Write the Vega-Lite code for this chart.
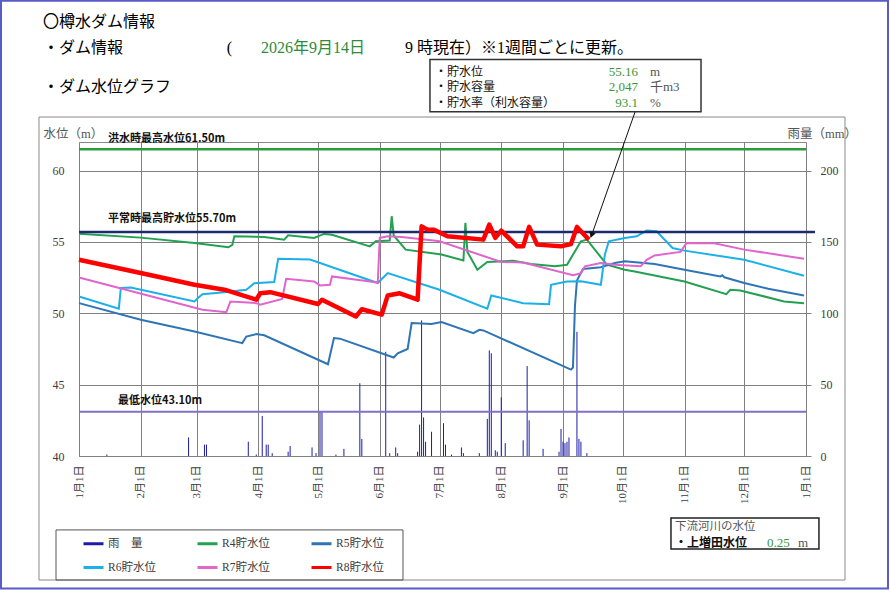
{
  "$schema": "https://vega.github.io/schema/vega-lite/v6.json",
  "width": 727,
  "height": 314,
  "autosize": {"type": "none"},
  "padding": {"left": 79, "top": 142, "right": 84, "bottom": 134},
  "background": "white",
  "config": {
    "view": {"stroke": "#8a8a8a", "strokeWidth": 1},
    "axis": {
      "gridColor": "#808080",
      "gridOpacity": 1,
      "gridWidth": 1,
      "labelColor": "#3c3c3c",
      "labelFont": "Liberation Serif, Noto Sans CJK JP",
      "titleFont": "Liberation Serif, Noto Sans CJK JP",
      "titleFontWeight": "normal",
      "titleColor": "#555555",
      "titleFontSize": 12.5
    }
  },
  "datasets": {
    "rain": [
      {"date": "2026-01-15", "series": "雨　量", "rain": 1},
      {"date": "2026-02-25", "series": "雨　量", "rain": 13},
      {"date": "2026-03-05", "series": "雨　量", "rain": 8},
      {"date": "2026-03-06", "series": "雨　量", "rain": 8},
      {"date": "2026-03-27", "series": "雨　量", "rain": 10},
      {"date": "2026-03-31", "series": "雨　量", "rain": 1},
      {"date": "2026-04-03", "series": "雨　量", "rain": 28},
      {"date": "2026-04-05", "series": "雨　量", "rain": 8},
      {"date": "2026-04-06", "series": "雨　量", "rain": 8},
      {"date": "2026-04-08", "series": "雨　量", "rain": 2},
      {"date": "2026-04-16", "series": "雨　量", "rain": 3},
      {"date": "2026-04-17", "series": "雨　量", "rain": 7},
      {"date": "2026-04-28", "series": "雨　量", "rain": 6},
      {"date": "2026-04-30", "series": "雨　量", "rain": 2},
      {"date": "2026-05-02", "series": "雨　量", "rain": 31},
      {"date": "2026-05-03", "series": "雨　量", "rain": 31},
      {"date": "2026-05-10", "series": "雨　量", "rain": 1},
      {"date": "2026-05-14", "series": "雨　量", "rain": 5},
      {"date": "2026-05-22", "series": "雨　量", "rain": 51},
      {"date": "2026-05-23", "series": "雨　量", "rain": 12},
      {"date": "2026-06-04", "series": "雨　量", "rain": 73},
      {"date": "2026-06-06", "series": "雨　量", "rain": 2},
      {"date": "2026-06-09", "series": "雨　量", "rain": 6},
      {"date": "2026-06-10", "series": "雨　量", "rain": 2},
      {"date": "2026-06-20", "series": "雨　量", "rain": 3},
      {"date": "2026-06-21", "series": "雨　量", "rain": 22},
      {"date": "2026-06-22", "series": "雨　量", "rain": 95},
      {"date": "2026-06-23", "series": "雨　量", "rain": 27},
      {"date": "2026-06-24", "series": "雨　量", "rain": 10},
      {"date": "2026-06-27", "series": "雨　量", "rain": 17},
      {"date": "2026-07-03", "series": "雨　量", "rain": 23},
      {"date": "2026-07-04", "series": "雨　量", "rain": 8},
      {"date": "2026-07-07", "series": "雨　量", "rain": 1},
      {"date": "2026-07-12", "series": "雨　量", "rain": 6},
      {"date": "2026-07-13", "series": "雨　量", "rain": 2},
      {"date": "2026-07-21", "series": "雨　量", "rain": 2},
      {"date": "2026-07-25", "series": "雨　量", "rain": 26},
      {"date": "2026-07-26", "series": "雨　量", "rain": 74},
      {"date": "2026-07-27", "series": "雨　量", "rain": 72},
      {"date": "2026-07-29", "series": "雨　量", "rain": 4},
      {"date": "2026-07-30", "series": "雨　量", "rain": 3},
      {"date": "2026-08-01", "series": "雨　量", "rain": 41},
      {"date": "2026-08-03", "series": "雨　量", "rain": 9},
      {"date": "2026-08-12", "series": "雨　量", "rain": 11},
      {"date": "2026-08-14", "series": "雨　量", "rain": 63},
      {"date": "2026-08-15", "series": "雨　量", "rain": 25},
      {"date": "2026-08-22", "series": "雨　量", "rain": 5},
      {"date": "2026-08-30", "series": "雨　量", "rain": 3},
      {"date": "2026-08-31", "series": "雨　量", "rain": 19},
      {"date": "2026-09-01", "series": "雨　量", "rain": 10},
      {"date": "2026-09-02", "series": "雨　量", "rain": 9},
      {"date": "2026-09-03", "series": "雨　量", "rain": 10},
      {"date": "2026-09-04", "series": "雨　量", "rain": 13},
      {"date": "2026-09-08", "series": "雨　量", "rain": 87},
      {"date": "2026-09-09", "series": "雨　量", "rain": 12},
      {"date": "2026-09-10", "series": "雨　量", "rain": 10},
      {"date": "2026-09-13", "series": "雨　量", "rain": 2}
    ],
    "levels": [
      {"date": "2026-01-01", "series": "R4貯水位", "level": 55.58},
      {"date": "2026-02-01", "series": "R4貯水位", "level": 55.30},
      {"date": "2026-02-28", "series": "R4貯水位", "level": 54.93},
      {"date": "2026-03-17", "series": "R4貯水位", "level": 54.62},
      {"date": "2026-03-19", "series": "R4貯水位", "level": 54.80},
      {"date": "2026-03-20", "series": "R4貯水位", "level": 55.39},
      {"date": "2026-04-04", "series": "R4貯水位", "level": 55.35},
      {"date": "2026-04-14", "series": "R4貯水位", "level": 55.16},
      {"date": "2026-04-16", "series": "R4貯水位", "level": 55.46},
      {"date": "2026-04-29", "series": "R4貯水位", "level": 55.28},
      {"date": "2026-05-04", "series": "R4貯水位", "level": 55.56},
      {"date": "2026-05-08", "series": "R4貯水位", "level": 55.50},
      {"date": "2026-05-27", "series": "R4貯水位", "level": 54.69},
      {"date": "2026-05-30", "series": "R4貯水位", "level": 55.04},
      {"date": "2026-06-06", "series": "R4貯水位", "level": 55.10},
      {"date": "2026-06-07", "series": "R4貯水位", "level": 56.80},
      {"date": "2026-06-08", "series": "R4貯水位", "level": 55.45},
      {"date": "2026-06-14", "series": "R4貯水位", "level": 54.46},
      {"date": "2026-07-02", "series": "R4貯水位", "level": 54.12},
      {"date": "2026-07-13", "series": "R4貯水位", "level": 53.70},
      {"date": "2026-07-14", "series": "R4貯水位", "level": 56.33},
      {"date": "2026-07-15", "series": "R4貯水位", "level": 54.30},
      {"date": "2026-07-20", "series": "R4貯水位", "level": 53.05},
      {"date": "2026-07-25", "series": "R4貯水位", "level": 53.59},
      {"date": "2026-08-07", "series": "R4貯水位", "level": 53.68},
      {"date": "2026-08-16", "series": "R4貯水位", "level": 53.45},
      {"date": "2026-08-28", "series": "R4貯水位", "level": 53.29},
      {"date": "2026-09-03", "series": "R4貯水位", "level": 53.40},
      {"date": "2026-09-10", "series": "R4貯水位", "level": 55.04},
      {"date": "2026-09-13", "series": "R4貯水位", "level": 55.16},
      {"date": "2026-09-23", "series": "R4貯水位", "level": 53.40},
      {"date": "2026-10-02", "series": "R4貯水位", "level": 53.05},
      {"date": "2026-10-07", "series": "R4貯水位", "level": 52.93},
      {"date": "2026-11-01", "series": "R4貯水位", "level": 52.23},
      {"date": "2026-11-22", "series": "R4貯水位", "level": 51.34},
      {"date": "2026-11-24", "series": "R4貯水位", "level": 51.65},
      {"date": "2026-11-29", "series": "R4貯水位", "level": 51.60},
      {"date": "2026-12-21", "series": "R4貯水位", "level": 50.83},
      {"date": "2026-12-31", "series": "R4貯水位", "level": 50.71},

      {"date": "2026-01-01", "series": "R5貯水位", "level": 50.71},
      {"date": "2026-02-01", "series": "R5貯水位", "level": 49.54},
      {"date": "2026-02-28", "series": "R5貯水位", "level": 48.72},
      {"date": "2026-03-24", "series": "R5貯水位", "level": 47.91},
      {"date": "2026-03-26", "series": "R5貯水位", "level": 48.37},
      {"date": "2026-03-31", "series": "R5貯水位", "level": 48.54},
      {"date": "2026-04-04", "series": "R5貯水位", "level": 48.46},
      {"date": "2026-05-06", "series": "R5貯水位", "level": 46.43},
      {"date": "2026-05-09", "series": "R5貯水位", "level": 48.26},
      {"date": "2026-05-12", "series": "R5貯水位", "level": 48.22},
      {"date": "2026-06-08", "series": "R5貯水位", "level": 46.90},
      {"date": "2026-06-10", "series": "R5貯水位", "level": 47.20},
      {"date": "2026-06-15", "series": "R5貯水位", "level": 47.50},
      {"date": "2026-06-17", "series": "R5貯水位", "level": 49.31},
      {"date": "2026-06-27", "series": "R5貯水位", "level": 49.25},
      {"date": "2026-07-02", "series": "R5貯水位", "level": 49.38},
      {"date": "2026-07-18", "series": "R5貯水位", "level": 48.61},
      {"date": "2026-07-21", "series": "R5貯水位", "level": 48.84},
      {"date": "2026-07-23", "series": "R5貯水位", "level": 48.80},
      {"date": "2026-09-05", "series": "R5貯水位", "level": 46.05},
      {"date": "2026-09-06", "series": "R5貯水位", "level": 46.20},
      {"date": "2026-09-07", "series": "R5貯水位", "level": 50.50},
      {"date": "2026-09-08", "series": "R5貯水位", "level": 52.30},
      {"date": "2026-09-11", "series": "R5貯水位", "level": 53.10},
      {"date": "2026-09-20", "series": "R5貯水位", "level": 53.22},
      {"date": "2026-09-27", "series": "R5貯水位", "level": 53.52},
      {"date": "2026-10-02", "series": "R5貯水位", "level": 53.64},
      {"date": "2026-10-17", "series": "R5貯水位", "level": 53.45},
      {"date": "2026-11-01", "series": "R5貯水位", "level": 53.05},
      {"date": "2026-11-19", "series": "R5貯水位", "level": 52.58},
      {"date": "2026-11-20", "series": "R5貯水位", "level": 52.66},
      {"date": "2026-11-21", "series": "R5貯水位", "level": 52.52},
      {"date": "2026-12-01", "series": "R5貯水位", "level": 52.12},
      {"date": "2026-12-13", "series": "R5貯水位", "level": 51.72},
      {"date": "2026-12-31", "series": "R5貯水位", "level": 51.25},

      {"date": "2026-01-01", "series": "R6貯水位", "level": 51.18},
      {"date": "2026-01-21", "series": "R6貯水位", "level": 50.32},
      {"date": "2026-01-22", "series": "R6貯水位", "level": 51.77},
      {"date": "2026-01-27", "series": "R6貯水位", "level": 51.80},
      {"date": "2026-02-28", "series": "R6貯水位", "level": 50.83},
      {"date": "2026-03-02", "series": "R6貯水位", "level": 51.10},
      {"date": "2026-03-04", "series": "R6貯水位", "level": 51.34},
      {"date": "2026-03-15", "series": "R6貯水位", "level": 51.48},
      {"date": "2026-03-26", "series": "R6貯水位", "level": 51.65},
      {"date": "2026-03-30", "series": "R6貯水位", "level": 52.10},
      {"date": "2026-04-09", "series": "R6貯水位", "level": 52.19},
      {"date": "2026-04-11", "series": "R6貯水位", "level": 53.82},
      {"date": "2026-04-27", "series": "R6貯水位", "level": 53.77},
      {"date": "2026-05-31", "series": "R6貯水位", "level": 52.12},
      {"date": "2026-06-02", "series": "R6貯水位", "level": 52.40},
      {"date": "2026-06-05", "series": "R6貯水位", "level": 52.82},
      {"date": "2026-07-01", "series": "R6貯水位", "level": 51.65},
      {"date": "2026-07-25", "series": "R6貯水位", "level": 50.32},
      {"date": "2026-07-27", "series": "R6貯水位", "level": 51.25},
      {"date": "2026-08-12", "series": "R6貯水位", "level": 50.70},
      {"date": "2026-08-25", "series": "R6貯水位", "level": 50.64},
      {"date": "2026-08-26", "series": "R6貯水位", "level": 52.00},
      {"date": "2026-09-03", "series": "R6貯水位", "level": 52.23},
      {"date": "2026-09-10", "series": "R6貯水位", "level": 52.25},
      {"date": "2026-09-20", "series": "R6貯水位", "level": 52.00},
      {"date": "2026-09-22", "series": "R6貯水位", "level": 54.10},
      {"date": "2026-09-24", "series": "R6貯水位", "level": 55.04},
      {"date": "2026-10-02", "series": "R6貯水位", "level": 55.28},
      {"date": "2026-10-08", "series": "R6貯水位", "level": 55.39},
      {"date": "2026-10-13", "series": "R6貯水位", "level": 55.79},
      {"date": "2026-10-18", "series": "R6貯水位", "level": 55.75},
      {"date": "2026-10-26", "series": "R6貯水位", "level": 54.57},
      {"date": "2026-11-01", "series": "R6貯水位", "level": 54.39},
      {"date": "2026-12-01", "series": "R6貯水位", "level": 53.75},
      {"date": "2026-12-31", "series": "R6貯水位", "level": 52.63},

      {"date": "2026-01-01", "series": "R7貯水位", "level": 52.51},
      {"date": "2026-03-04", "series": "R7貯水位", "level": 50.25},
      {"date": "2026-03-16", "series": "R7貯水位", "level": 50.08},
      {"date": "2026-03-18", "series": "R7貯水位", "level": 50.83},
      {"date": "2026-03-31", "series": "R7貯水位", "level": 50.71},
      {"date": "2026-04-02", "series": "R7貯水位", "level": 50.60},
      {"date": "2026-04-13", "series": "R7貯水位", "level": 51.00},
      {"date": "2026-04-15", "series": "R7貯水位", "level": 52.42},
      {"date": "2026-04-29", "series": "R7貯水位", "level": 52.23},
      {"date": "2026-05-02", "series": "R7貯水位", "level": 51.95},
      {"date": "2026-05-07", "series": "R7貯水位", "level": 52.00},
      {"date": "2026-05-08", "series": "R7貯水位", "level": 52.58},
      {"date": "2026-05-29", "series": "R7貯水位", "level": 52.19},
      {"date": "2026-05-31", "series": "R7貯水位", "level": 52.15},
      {"date": "2026-06-01", "series": "R7貯水位", "level": 55.28},
      {"date": "2026-06-05", "series": "R7貯水位", "level": 55.39},
      {"date": "2026-06-12", "series": "R7貯水位", "level": 55.35},
      {"date": "2026-06-28", "series": "R7貯水位", "level": 55.10},
      {"date": "2026-07-01", "series": "R7貯水位", "level": 55.04},
      {"date": "2026-08-01", "series": "R7貯水位", "level": 53.60},
      {"date": "2026-08-12", "series": "R7貯水位", "level": 53.55},
      {"date": "2026-09-06", "series": "R7貯水位", "level": 52.66},
      {"date": "2026-09-10", "series": "R7貯水位", "level": 52.80},
      {"date": "2026-09-12", "series": "R7貯水位", "level": 53.29},
      {"date": "2026-09-20", "series": "R7貯水位", "level": 53.52},
      {"date": "2026-09-27", "series": "R7貯水位", "level": 53.40},
      {"date": "2026-10-10", "series": "R7貯水位", "level": 53.29},
      {"date": "2026-10-13", "series": "R7貯水位", "level": 53.75},
      {"date": "2026-10-17", "series": "R7貯水位", "level": 54.05},
      {"date": "2026-10-30", "series": "R7貯水位", "level": 54.30},
      {"date": "2026-11-02", "series": "R7貯水位", "level": 54.93},
      {"date": "2026-11-16", "series": "R7貯水位", "level": 54.90},
      {"date": "2026-12-01", "series": "R7貯水位", "level": 54.46},
      {"date": "2026-12-31", "series": "R7貯水位", "level": 53.82},

      {"date": "2026-01-01", "series": "R8貯水位", "level": 53.75},
      {"date": "2026-02-01", "series": "R8貯水位", "level": 52.82},
      {"date": "2026-02-28", "series": "R8貯水位", "level": 52.00},
      {"date": "2026-03-15", "series": "R8貯水位", "level": 51.65},
      {"date": "2026-03-31", "series": "R8貯水位", "level": 50.95},
      {"date": "2026-04-02", "series": "R8貯水位", "level": 51.40},
      {"date": "2026-04-07", "series": "R8貯水位", "level": 51.48},
      {"date": "2026-05-01", "series": "R8貯水位", "level": 50.65},
      {"date": "2026-05-03", "series": "R8貯水位", "level": 50.95},
      {"date": "2026-05-20", "series": "R8貯水位", "level": 49.77},
      {"date": "2026-05-23", "series": "R8貯水位", "level": 50.28},
      {"date": "2026-06-02", "series": "R8貯水位", "level": 49.90},
      {"date": "2026-06-05", "series": "R8貯水位", "level": 51.25},
      {"date": "2026-06-11", "series": "R8貯水位", "level": 51.40},
      {"date": "2026-06-20", "series": "R8貯水位", "level": 50.95},
      {"date": "2026-06-22", "series": "R8貯水位", "level": 56.09},
      {"date": "2026-06-25", "series": "R8貯水位", "level": 55.86},
      {"date": "2026-06-28", "series": "R8貯水位", "level": 55.86},
      {"date": "2026-07-05", "series": "R8貯水位", "level": 55.39},
      {"date": "2026-07-23", "series": "R8貯水位", "level": 55.16},
      {"date": "2026-07-26", "series": "R8貯水位", "level": 56.21},
      {"date": "2026-07-29", "series": "R8貯水位", "level": 55.28},
      {"date": "2026-08-01", "series": "R8貯水位", "level": 55.79},
      {"date": "2026-08-09", "series": "R8貯水位", "level": 54.69},
      {"date": "2026-08-12", "series": "R8貯水位", "level": 54.69},
      {"date": "2026-08-15", "series": "R8貯水位", "level": 56.05},
      {"date": "2026-08-19", "series": "R8貯水位", "level": 54.81},
      {"date": "2026-08-31", "series": "R8貯水位", "level": 54.69},
      {"date": "2026-09-05", "series": "R8貯水位", "level": 54.85},
      {"date": "2026-09-08", "series": "R8貯水位", "level": 56.05},
      {"date": "2026-09-14", "series": "R8貯水位", "level": 55.16}
    ]
  },
  "layer": [
    {
      "data": {"name": "rain"},
      "mark": {"type": "rule", "strokeWidth": 1},
      "encoding": {
        "x": {
          "field": "date",
          "type": "temporal",
          "scale": {"type": "utc", "domain": [{"year": 2026, "month": 1, "date": 1, "utc": true}, {"year": 2027, "month": 1, "date": 1, "utc": true}]},
          "axis": {
            "title": null,
            "values": [
              {"year": 2026, "month": 1, "date": 1, "utc": true},
              {"year": 2026, "month": 2, "date": 1, "utc": true},
              {"year": 2026, "month": 3, "date": 1, "utc": true},
              {"year": 2026, "month": 4, "date": 1, "utc": true},
              {"year": 2026, "month": 5, "date": 1, "utc": true},
              {"year": 2026, "month": 6, "date": 1, "utc": true},
              {"year": 2026, "month": 7, "date": 1, "utc": true},
              {"year": 2026, "month": 8, "date": 1, "utc": true},
              {"year": 2026, "month": 9, "date": 1, "utc": true},
              {"year": 2026, "month": 10, "date": 1, "utc": true},
              {"year": 2026, "month": 11, "date": 1, "utc": true},
              {"year": 2026, "month": 12, "date": 1, "utc": true},
              {"year": 2027, "month": 1, "date": 1, "utc": true}
            ],
            "format": "%-m月%-d日",
            "labelAngle": -90,
            "labelFontSize": 11,
            "labelPadding": 9,
            "ticks": false,
            "domain": true,
            "domainColor": "#808080",
            "grid": true
          }
        },
        "y": {
          "field": "rain",
          "type": "quantitative",
          "scale": {"domain": [0, 220], "nice": false},
          "axis": {
            "orient": "right",
            "values": [0, 50, 100, 150, 200],
            "title": "雨量（mm）",
            "titleAngle": 0,
            "titleAlign": "left",
            "titleBaseline": "middle",
            "titleX": -19,
            "titleY": -9,
            "grid": false,
            "ticks": true,
            "tickSize": 5,
            "tickColor": "#808080",
            "domain": false,
            "labelPadding": 9,
            "labelFontSize": 12
          }
        },
        "y2": {"datum": 0},
        "color": {
          "field": "series",
          "type": "nominal",
          "scale": {
            "domain": ["雨　量", "R4貯水位", "R5貯水位", "R6貯水位", "R7貯水位", "R8貯水位"],
            "range": ["#1c1ca8", "#23a052", "#2e75b6", "#1cb0e8", "#e065cc", "#ff0000"]
          },
          "legend": {
            "orient": "none",
            "direction": "horizontal",
            "legendX": 3,
            "legendY": 390,
            "title": null,
            "columns": 3,
            "columnPadding": 35,
            "rowPadding": 6,
            "padding": 0,
            "symbolType": "stroke",
            "symbolSize": 400,
            "symbolStrokeWidth": 3,
            "labelFont": "Liberation Serif, Noto Sans CJK JP",
            "labelFontSize": 11.5,
            "labelColor": "#3c3c3c",
            "labelOffset": 3,
            "labelLimit": 120
          }
        }
      }
    },
    {
      "layer": [
        {
          "data": {"values": [{}]},
          "mark": {"type": "rect", "filled": false, "color": "#5a5ac8", "strokeWidth": 2},
          "encoding": {
            "x": {"datum": {"year": 2025, "month": 11, "date": 22, "hours": 20, "utc": true}, "type": "temporal"},
            "x2": {"datum": {"year": 2027, "month": 2, "date": 11, "hours": 4, "utc": true}},
            "y": {"datum": 71.9},
            "y2": {"datum": 30.72}
          }
        },
        {
          "data": {"values": [{}]},
          "mark": {"type": "rect", "filled": false, "color": "#8a8a8a", "strokeWidth": 1},
          "encoding": {
            "x": {"datum": {"year": 2025, "month": 12, "date": 11, "hours": 22, "utc": true}, "type": "temporal"},
            "x2": {"datum": {"year": 2027, "month": 1, "date": 20, "hours": 14, "utc": true}},
            "y": {"datum": 63.75},
            "y2": {"datum": 31.31}
          }
        },
        {
          "data": {"values": [{}]},
          "mark": {"type": "rect", "filled": false, "color": "#555555", "strokeWidth": 1},
          "encoding": {
            "x": {"datum": {"year": 2025, "month": 12, "date": 20, "hours": 11, "utc": true}, "type": "temporal"},
            "x2": {"datum": {"year": 2026, "month": 6, "date": 12, "hours": 16, "utc": true}},
            "y": {"datum": 34.82},
            "y2": {"datum": 31.31}
          }
        },
        {
          "data": {"values": [{}]},
          "mark": {"type": "rect", "filled": false, "color": "#333333", "strokeWidth": 1.5},
          "encoding": {
            "x": {"datum": {"year": 2026, "month": 6, "date": 26, "hours": 5, "utc": true}, "type": "temporal"},
            "x2": {"datum": {"year": 2026, "month": 11, "date": 9, "hours": 7, "utc": true}},
            "y": {"datum": 67.78},
            "y2": {"datum": 64.12}
          }
        },
        {
          "data": {"values": [{}]},
          "mark": {"type": "rect", "filled": false, "color": "#222222", "strokeWidth": 1.5},
          "encoding": {
            "x": {"datum": {"year": 2026, "month": 10, "date": 25, "hours": 5, "utc": true}, "type": "temporal"},
            "x2": {"datum": {"year": 2027, "month": 1, "date": 7, "hours": 12, "utc": true}},
            "y": {"datum": 35.66},
            "y2": {"datum": 33.48}
          }
        },
        {
          "data": {"values": [{}]},
          "mark": {"type": "rule", "color": "#2e9a3e", "strokeWidth": 2.5},
          "encoding": {
            "x": {"datum": {"year": 2026, "month": 1, "date": 1, "utc": true}, "type": "temporal"},
            "x2": {"datum": {"year": 2027, "month": 1, "date": 1, "utc": true}},
            "y": {"datum": 61.5}
          }
        },
        {
          "data": {"values": [{}]},
          "mark": {"type": "rule", "color": "#8270c8", "strokeWidth": 2},
          "encoding": {
            "x": {"datum": {"year": 2026, "month": 1, "date": 1, "utc": true}, "type": "temporal"},
            "x2": {"datum": {"year": 2027, "month": 1, "date": 1, "utc": true}},
            "y": {"datum": 43.1}
          }
        },
        {
          "data": {"name": "levels"},
          "transform": [{"filter": "datum.series !== 'R8貯水位'"}],
          "mark": {"type": "line", "strokeWidth": 2},
          "encoding": {
            "x": {"field": "date", "type": "temporal"},
            "y": {
              "field": "level",
              "type": "quantitative",
              "scale": {"domain": [40, 62], "nice": false, "zero": false},
              "axis": {
                "orient": "left",
                "values": [40, 45, 50, 55, 60],
                "title": "水位（m）",
                "titleAngle": 0,
                "titleAlign": "left",
                "titleBaseline": "middle",
                "titleX": -36,
                "titleY": -9,
                "ticks": false,
                "domain": false,
                "labelPadding": 15,
                "labelFontSize": 12,
                "grid": true
              }
            },
            "color": {"field": "series", "type": "nominal"}
          }
        },
        {
          "data": {"values": [{}]},
          "mark": {"type": "rule", "color": "#1c2a6e", "strokeWidth": 2.5},
          "encoding": {
            "x": {"datum": {"year": 2026, "month": 1, "date": 1, "utc": true}, "type": "temporal"},
            "x2": {"datum": {"year": 2027, "month": 1, "date": 5, "hours": 12, "utc": true}},
            "y": {"datum": 55.7}
          }
        },
        {
          "data": {"name": "levels"},
          "transform": [{"filter": "datum.series === 'R8貯水位'"}],
          "mark": {"type": "line", "strokeWidth": 4.5, "strokeJoin": "round"},
          "encoding": {
            "x": {"field": "date", "type": "temporal"},
            "y": {"field": "level", "type": "quantitative"},
            "color": {"field": "series", "type": "nominal"}
          }
        },
        {
          "data": {"values": [{}]},
          "mark": {"type": "rule", "color": "#111111", "strokeWidth": 1},
          "encoding": {
            "x": {"datum": {"year": 2026, "month": 10, "date": 7, "hours": 4, "utc": true}, "type": "temporal"},
            "x2": {"datum": {"year": 2026, "month": 9, "date": 15, "hours": 1, "utc": true}},
            "y": {"datum": 64.1},
            "y2": {"datum": 55.34}
          }
        },
        {
          "data": {"values": [{}]},
          "mark": {"type": "point", "shape": "triangle", "filled": true, "color": "#111111", "size": 45, "angle": 198.6, "opacity": 1},
          "encoding": {
            "x": {"datum": {"year": 2026, "month": 9, "date": 15, "hours": 12, "utc": true}, "type": "temporal"},
            "y": {"datum": 55.54}
          }
        },
        {
          "data": {"values": [{}]},
          "mark": {"type": "text", "text": "洪水時最高水位61.50m", "align": "left", "baseline": "middle", "font": "Noto Sans CJK JP", "fontWeight": "bold", "fontSize": 11, "color": "#111111"},
          "encoding": {
            "x": {"datum": {"year": 2026, "month": 1, "date": 15, "hours": 13, "utc": true}, "type": "temporal"},
            "y": {"datum": 62.2}
          }
        },
        {
          "data": {"values": [{}]},
          "mark": {"type": "text", "text": "平常時最高貯水位55.70m", "align": "left", "baseline": "middle", "font": "Noto Sans CJK JP", "fontWeight": "bold", "fontSize": 11, "color": "#111111"},
          "encoding": {
            "x": {"datum": {"year": 2026, "month": 1, "date": 15, "hours": 13, "utc": true}, "type": "temporal"},
            "y": {"datum": 56.58}
          }
        },
        {
          "data": {"values": [{}]},
          "mark": {"type": "text", "text": "最低水位43.10m", "align": "left", "baseline": "middle", "font": "Noto Sans CJK JP", "fontWeight": "bold", "fontSize": 11, "color": "#111111"},
          "encoding": {
            "x": {"datum": {"year": 2026, "month": 1, "date": 20, "hours": 14, "utc": true}, "type": "temporal"},
            "y": {"datum": 43.87}
          }
        },
        {
          "data": {"values": [{}]},
          "mark": {"type": "text", "text": "〇樽水ダム情報", "align": "left", "baseline": "middle", "font": "Noto Sans CJK JP", "fontSize": 16, "color": "#000000"},
          "encoding": {
            "x": {"datum": {"year": 2025, "month": 12, "date": 13, "hours": 22, "utc": true}, "type": "temporal"},
            "y": {"datum": 70.43}
          }
        },
        {
          "data": {"values": [{}]},
          "mark": {"type": "text", "text": "・ダム情報", "align": "left", "baseline": "middle", "font": "Noto Sans CJK JP", "fontSize": 16, "color": "#000000"},
          "encoding": {
            "x": {"datum": {"year": 2025, "month": 12, "date": 13, "hours": 22, "utc": true}, "type": "temporal"},
            "y": {"datum": 68.57}
          }
        },
        {
          "data": {"values": [{}]},
          "mark": {"type": "text", "text": "(", "align": "left", "baseline": "middle", "font": "Liberation Serif", "fontSize": 16, "color": "#000000"},
          "encoding": {
            "x": {"datum": {"year": 2026, "month": 3, "date": 16, "hours": 4, "utc": true}, "type": "temporal"},
            "y": {"datum": 68.57}
          }
        },
        {
          "data": {"values": [{}]},
          "mark": {"type": "text", "text": "2026年9月14日", "align": "left", "baseline": "middle", "font": "Liberation Serif, Noto Sans CJK JP", "fontSize": 16, "color": "#2e8b3a"},
          "encoding": {
            "x": {"datum": {"year": 2026, "month": 4, "date": 2, "hours": 9, "utc": true}, "type": "temporal"},
            "y": {"datum": 68.57}
          }
        },
        {
          "data": {"values": [{}]},
          "mark": {"type": "text", "text": "9 時現在）※1週間ごとに更新。", "align": "left", "baseline": "middle", "font": "Liberation Serif, Noto Sans CJK JP", "fontSize": 16, "color": "#000000"},
          "encoding": {
            "x": {"datum": {"year": 2026, "month": 6, "date": 13, "hours": 16, "utc": true}, "type": "temporal"},
            "y": {"datum": 68.57}
          }
        },
        {
          "data": {"values": [{}]},
          "mark": {"type": "text", "text": "・ダム水位グラフ", "align": "left", "baseline": "middle", "font": "Noto Sans CJK JP", "fontSize": 16, "color": "#000000"},
          "encoding": {
            "x": {"datum": {"year": 2025, "month": 12, "date": 13, "hours": 22, "utc": true}, "type": "temporal"},
            "y": {"datum": 65.87}
          }
        },
        {
          "data": {"values": [{}]},
          "mark": {"type": "text", "text": "・貯水位", "align": "left", "baseline": "middle", "font": "Noto Sans CJK JP", "fontSize": 12, "color": "#111111"},
          "encoding": {
            "x": {"datum": {"year": 2026, "month": 6, "date": 28, "hours": 18, "utc": true}, "type": "temporal"},
            "y": {"datum": 66.93}
          }
        },
        {
          "data": {"values": [{}]},
          "mark": {"type": "text", "text": "・貯水容量", "align": "left", "baseline": "middle", "font": "Noto Sans CJK JP", "fontSize": 12, "color": "#111111"},
          "encoding": {
            "x": {"datum": {"year": 2026, "month": 6, "date": 28, "hours": 18, "utc": true}, "type": "temporal"},
            "y": {"datum": 65.83}
          }
        },
        {
          "data": {"values": [{}]},
          "mark": {"type": "text", "text": "・貯水率（利水容量）", "align": "left", "baseline": "middle", "font": "Noto Sans CJK JP", "fontSize": 12, "color": "#111111"},
          "encoding": {
            "x": {"datum": {"year": 2026, "month": 6, "date": 28, "hours": 18, "utc": true}, "type": "temporal"},
            "y": {"datum": 64.75}
          }
        },
        {
          "data": {"values": [{}]},
          "mark": {"type": "text", "text": "55.16", "align": "right", "baseline": "middle", "font": "Liberation Serif", "fontSize": 13, "color": "#3a963a"},
          "encoding": {
            "x": {"datum": {"year": 2026, "month": 10, "date": 8, "hours": 16, "utc": true}, "type": "temporal"},
            "y": {"datum": 66.93}
          }
        },
        {
          "data": {"values": [{}]},
          "mark": {"type": "text", "text": "2,047", "align": "right", "baseline": "middle", "font": "Liberation Serif", "fontSize": 13, "color": "#3a963a"},
          "encoding": {
            "x": {"datum": {"year": 2026, "month": 10, "date": 8, "hours": 16, "utc": true}, "type": "temporal"},
            "y": {"datum": 65.83}
          }
        },
        {
          "data": {"values": [{}]},
          "mark": {"type": "text", "text": "93.1", "align": "right", "baseline": "middle", "font": "Liberation Serif", "fontSize": 13, "color": "#3a963a"},
          "encoding": {
            "x": {"datum": {"year": 2026, "month": 10, "date": 8, "hours": 16, "utc": true}, "type": "temporal"},
            "y": {"datum": 64.75}
          }
        },
        {
          "data": {"values": [{}]},
          "mark": {"type": "text", "text": "m", "align": "left", "baseline": "middle", "font": "Liberation Serif", "fontSize": 13, "color": "#555555"},
          "encoding": {
            "x": {"datum": {"year": 2026, "month": 10, "date": 14, "hours": 16, "utc": true}, "type": "temporal"},
            "y": {"datum": 66.93}
          }
        },
        {
          "data": {"values": [{}]},
          "mark": {"type": "text", "text": "千m3", "align": "left", "baseline": "middle", "font": "Liberation Serif, Noto Sans CJK JP", "fontSize": 13, "color": "#555555"},
          "encoding": {
            "x": {"datum": {"year": 2026, "month": 10, "date": 14, "hours": 16, "utc": true}, "type": "temporal"},
            "y": {"datum": 65.83}
          }
        },
        {
          "data": {"values": [{}]},
          "mark": {"type": "text", "text": "%", "align": "left", "baseline": "middle", "font": "Liberation Serif", "fontSize": 13, "color": "#555555"},
          "encoding": {
            "x": {"datum": {"year": 2026, "month": 10, "date": 14, "hours": 16, "utc": true}, "type": "temporal"},
            "y": {"datum": 64.75}
          }
        },
        {
          "data": {"values": [{}]},
          "mark": {"type": "text", "text": "下流河川の水位", "align": "left", "baseline": "middle", "font": "Noto Sans CJK JP", "fontSize": 11.5, "color": "#555555"},
          "encoding": {
            "x": {"datum": {"year": 2026, "month": 10, "date": 27, "hours": 5, "utc": true}, "type": "temporal"},
            "y": {"datum": 35.03}
          }
        },
        {
          "data": {"values": [{}]},
          "mark": {"type": "text", "text": "・上増田水位", "align": "left", "baseline": "middle", "font": "Noto Sans CJK JP", "fontWeight": "bold", "fontSize": 12, "color": "#111111"},
          "encoding": {
            "x": {"datum": {"year": 2026, "month": 10, "date": 27, "hours": 5, "utc": true}, "type": "temporal"},
            "y": {"datum": 33.93}
          }
        },
        {
          "data": {"values": [{}]},
          "mark": {"type": "text", "text": "0.25", "align": "left", "baseline": "middle", "font": "Liberation Serif", "fontSize": 13, "color": "#3a963a"},
          "encoding": {
            "x": {"datum": {"year": 2026, "month": 12, "date": 12, "hours": 10, "utc": true}, "type": "temporal"},
            "y": {"datum": 33.93}
          }
        },
        {
          "data": {"values": [{}]},
          "mark": {"type": "text", "text": "m", "align": "left", "baseline": "middle", "font": "Liberation Serif", "fontSize": 13, "color": "#555555"},
          "encoding": {
            "x": {"datum": {"year": 2026, "month": 12, "date": 28, "utc": true}, "type": "temporal"},
            "y": {"datum": 33.93}
          }
        }
      ]
    }
  ],
  "resolve": {"scale": {"y": "independent"}}
}
